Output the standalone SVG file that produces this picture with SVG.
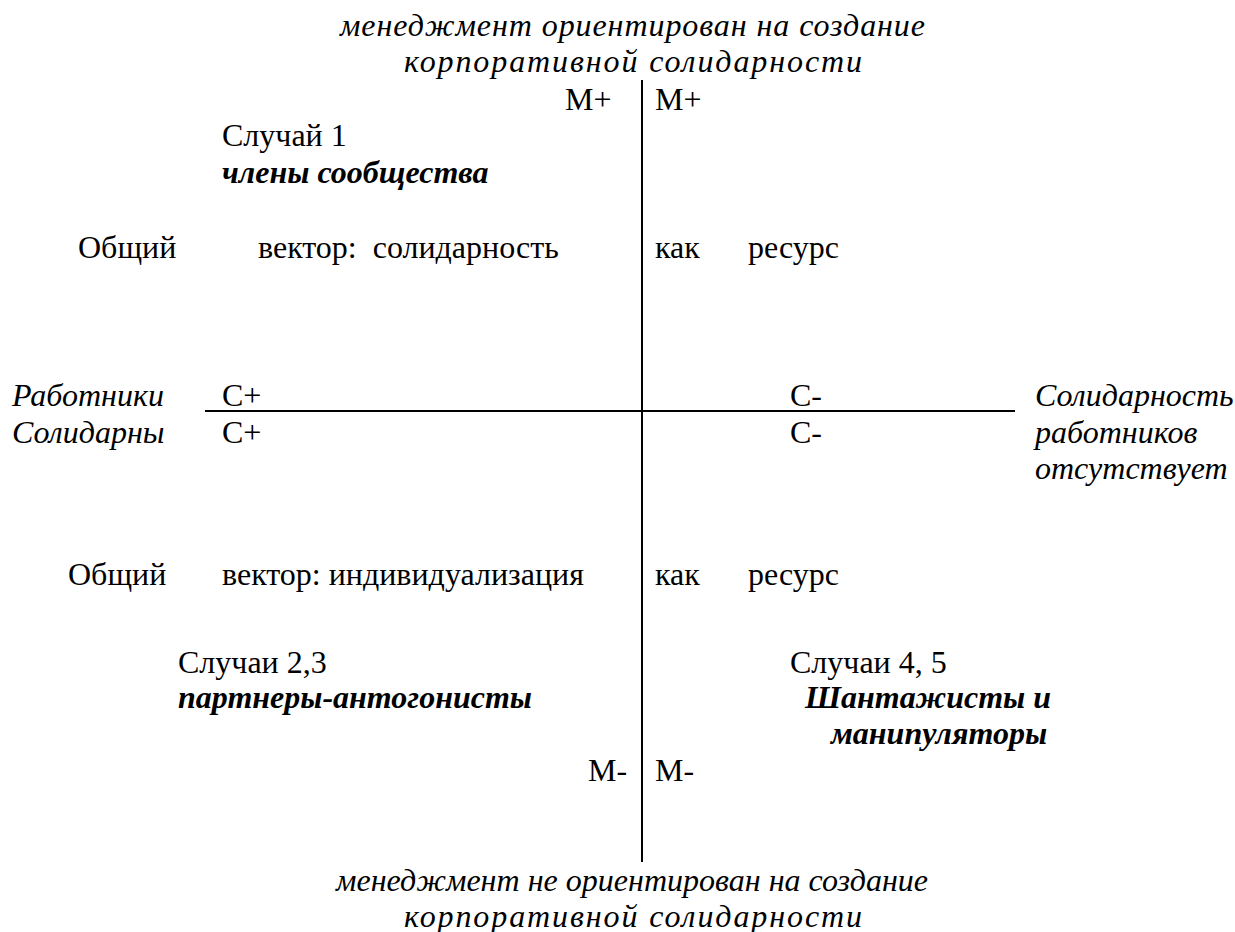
<svg xmlns="http://www.w3.org/2000/svg" width="1235" height="932" viewBox="0 0 1235 932">
<style>
text{font-family:"Liberation Serif",Tinos,"Noto Serif","DejaVu Serif",FreeSerif,"Times New Roman",Times,serif;font-size:32px;fill:#000}
.i{font-style:italic}
.bi{font-style:italic;font-weight:bold}
.c{text-anchor:middle}
.ax{stroke:#000;stroke-width:2;fill:none}
</style>
<rect width="1235" height="932" fill="#fff"/>
<g id="connectors">
<line class="ax" x1="642" y1="80" x2="642" y2="862"/>
<line class="ax" x1="205" y1="411" x2="1015" y2="411"/>
</g>
<g id="top-label">
<text class="i" x="340" y="36" textLength="585" lengthAdjust="spacing">менеджмент ориентирован на создание</text>
<text class="i" x="404" y="72" textLength="458" lengthAdjust="spacing">корпоративной солидарности</text>
</g>
<g id="m-plus">
<text x="565" y="110">M+</text>
<text x="655" y="110">M+</text>
</g>
<g id="case1">
<text x="222" y="146">Случай 1</text>
<text class="bi" x="222" y="183">члены сообщества</text>
</g>
<g id="vector-top">
<text x="78" y="258">Общий</text>
<text x="258" y="258" xml:space="preserve">вектор:  солидарность</text>
<text x="655" y="258">как</text>
<text x="748" y="258">ресурс</text>
</g>
<g id="left-label">
<text class="i" x="12" y="406">Работники</text>
<text class="i" x="12" y="443">Солидарны</text>
</g>
<g id="c-plus">
<text x="222" y="406">C+</text>
<text x="222" y="443">C+</text>
</g>
<g id="c-minus">
<text x="790" y="406">C-</text>
<text x="790" y="443">C-</text>
</g>
<g id="right-label">
<text class="i" x="1035" y="406">Солидарность</text>
<text class="i" x="1035" y="443">работников</text>
<text class="i" x="1035" y="479">отсутствует</text>
</g>
<g id="vector-bottom">
<text x="68" y="585">Общий</text>
<text x="222" y="585">вектор: индивидуализация</text>
<text x="655" y="585">как</text>
<text x="748" y="585">ресурс</text>
</g>
<g id="case23">
<text x="178" y="673">Случаи 2,3</text>
<text class="bi" x="178" y="708">партнеры-антогонисты</text>
</g>
<g id="case45">
<text x="790" y="673">Случаи 4, 5</text>
<text class="bi c" x="928" y="708">Шантажисты и</text>
<text class="bi c" x="939" y="744">манипуляторы</text>
</g>
<g id="m-minus">
<text x="588" y="781">M-</text>
<text x="655" y="781">M-</text>
</g>
<g id="bottom-label">
<text class="i" x="336" y="891" textLength="592" lengthAdjust="spacing">менеджмент не ориентирован на создание</text>
<text class="i" x="404" y="927" textLength="458" lengthAdjust="spacing">корпоративной солидарности</text>
</g>
</svg>
